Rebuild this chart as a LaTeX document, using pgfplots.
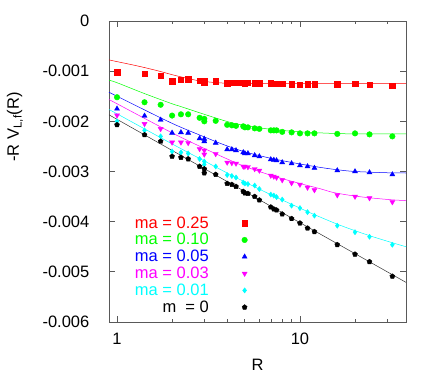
\documentclass[border=0pt]{standalone}
\usepackage{fontspec}
\setmainfont{Liberation Sans}
\usepackage{pgfplots}
\usepackage{pgfplotstable}
\pgfplotsset{compat=1.18}
\usetikzlibrary{plotmarks}
\definecolor{cR}{rgb}{1,0,0}
\definecolor{cG}{rgb}{0,1,0}
\definecolor{cB}{rgb}{0,0,1}
\definecolor{cM}{rgb}{1,0,1}
\definecolor{cC}{rgb}{0,1,1}

\pgfplotstableread{
R red green blue mag cyan black
1.000 -1.02 -1.52 -1.75 -1.88 -2.00 -2.07
1.414 -1.05 -1.62 -1.89 -2.05 -2.18 -2.27
1.732 -1.09 -1.67 -1.97 -2.15 -2.30 -2.40
2.000 -1.20 -1.885 -2.23 -2.42 -2.60 -2.70
2.236 -1.17 -1.86 -2.22 -2.42 -2.62 -2.72
2.449 -1.16 -1.86 -2.23 -2.43 -2.64 -2.75
2.828 -1.19 -1.93 -2.34 -2.55 -2.75 -2.90
3.000 -1.20 -1.95 -2.35 -2.58 -2.80 -2.95
3.000 -1.22 -2.00 -2.40 -2.66 -2.86 -3.03
3.464 -1.20 -1.99 -2.43 -2.65 -2.90 -3.06
4.000 -1.24 -2.07 -2.56 -2.82 -3.07 -3.24
4.243 -1.23 -2.08 -2.56 -2.83 -3.09 -3.26
4.472 -1.23 -2.09 -2.58 -2.84 -3.12 -3.30
4.899 -1.23 -2.10 -2.62 -2.90 -3.22 -3.40
5.000 -1.24 -2.12 -2.64 -2.90 -3.24 -3.43
5.196 -1.23 -2.12 -2.64 -2.91 -3.25 -3.44
5.657 -1.24 -2.14 -2.68 -2.95 -3.28 -3.50
6.000 -1.24 -2.15 -2.70 -2.98 -3.35 -3.57
6.928 -1.24 -2.18 -2.76 -3.08 -3.46 -3.71
7.200 -1.245 -2.18 -2.77 -3.10 -3.48 -3.75
7.450 -1.245 -2.18 -2.78 -3.12 -3.51 -3.77
8.000 -1.25 -2.21 -2.82 -3.17 -3.56 -3.85
9.000 -1.26 -2.22 -2.84 -3.23 -3.68 -3.94
10.00 -1.265 -2.24 -2.88 -3.26 -3.73 -4.03
11.00 -1.26 -2.24 -2.90 -3.32 -3.81 -4.13
12.00 -1.26 -2.24 -2.93 -3.37 -3.88 -4.20
16.00 -1.26 -2.25 -2.98 -3.47 -4.08 -4.46
20.00 -1.245 -2.24 -3.00 -3.50 -4.21 -4.65
24.00 -1.27 -2.26 -3.02 -3.53 -4.30 -4.80
32.00 -1.29 -2.30 -3.06 -3.61 -4.46 -5.09
}\datatab

\begin{document}
\begin{tikzpicture}[font=\fontsize{16.5}{19}\selectfont]
\useasboundingbox (-109pt,-52pt) rectangle (327pt,322pt);
\begin{axis}[
  at={(0,0)}, anchor=south west, scale only axis,
  width=297pt, height=301pt,
  xmode=log, xmin=0.904, xmax=38, ymin=-6, ymax=0,
  xtick={1,10}, xticklabels={1,10},
  minor xtick={2,3,4,5,6,7,8,9,20,30},
  ytick={-6,-5,-4,-3,-2,-1,0},
  yticklabels={-0.006,-0.005,-0.004,-0.003,-0.002,-0.001,0},
  major tick length=6pt, minor tick length=3pt,
  axis line style={black!65, line width=0.9pt},
  tick style={black!65, line width=0.9pt},
  xticklabel style={anchor=north, inner sep=0pt, yshift=-11pt},
  yticklabel style={anchor=east, inner sep=0pt, xshift=-19.5pt},
  xlabel={R}, ylabel={-R V\textsubscript{L,f}(R)},
  every axis x label/.style={at={(axis description cs:0.5,-0.143)}, anchor=center},
  every axis y label/.style={at={(axis description cs:-0.3165,0.648)}, anchor=center, rotate=90},
  legend plot pos=right, legend cell align=right,
  legend style={draw=none, fill=none, at={(axis description cs:0.07,0.364)}, anchor=north west,
    row sep=-0.2pt, /tikz/every odd column/.append style={column sep=31pt}},
]
% fit lines
\addplot[cR, line width=0.5pt, smooth, forget plot] coordinates {(0.904,-0.775) (1,-0.81) (1.2,-0.87) (1.42,-0.93) (1.7,-1.00) (2,-1.07) (2.4,-1.14) (2.8,-1.19) (3.5,-1.23) (4.5,-1.245) (6,-1.25) (10,-1.25) (20,-1.25) (38,-1.25)};
\addplot[cG, line width=0.5pt, smooth, forget plot] coordinates {(0.904,-1.18) (1,-1.23) (1.42,-1.45) (2,-1.65) (2.21,-1.70) (3,-1.86) (4.15,-2.02) (5.3,-2.10) (7,-2.16) (10,-2.21) (15,-2.24) (20,-2.25) (38,-2.25)};
\addplot[cB, line width=0.5pt, smooth, forget plot] coordinates {(0.904,-1.42) (1,-1.50) (2,-2.04) (3,-2.31) (3.5,-2.41) (4,-2.49) (5,-2.61) (7,-2.74) (10,-2.85) (13,-2.92) (16,-2.965) (20,-3.00) (30,-3.025) (38,-3.03)};
\addplot[cM, line width=0.5pt, smooth, forget plot] coordinates {(0.904,-1.565) (1,-1.65) (2,-2.23) (3,-2.54) (3.44,-2.64) (4,-2.75) (5,-2.90) (7,-3.08) (10,-3.24) (12.8,-3.34) (15.3,-3.42) (20,-3.49) (25,-3.53) (32,-3.565) (38,-3.58)};
\addplot[cC, line width=0.5pt, smooth, forget plot] coordinates {(0.904,-1.765) (1,-1.85) (2,-2.45) (3,-2.79) (4,-3.03) (5,-3.21) (7,-3.47) (10,-3.73) (12,-3.86) (16,-4.05) (20,-4.18) (25,-4.30) (32,-4.42) (38,-4.50)};
\addplot[black!80, line width=0.5pt, forget plot] coordinates {(0.904,-1.87) (1,-1.96) (10,-4.02) (38,-5.21)};
% data
\addplot[cR, only marks, mark=square*, mark size=2.7pt] table[x=R, y=red] {\datatab};
\addlegendentry{\textcolor{cR}{ma = 0.25}}
\addplot[cG, only marks, mark=*, mark size=2.8pt] table[x=R, y=green] {\datatab};
\addlegendentry{\textcolor{cG}{ma = 0.10}}
\addplot[cB, only marks, mark=triangle*, mark size=2.9pt] table[x=R, y=blue] {\datatab};
\addlegendentry{\textcolor{cB}{ma = 0.05}}
\addplot[cM, only marks, mark=triangle*, mark size=2.9pt, mark options={rotate=180}] table[x=R, y=mag] {\datatab};
\addlegendentry{\textcolor{cM}{ma = 0.03}}
\addplot[cC, only marks, mark=diamond*, mark size=2.6pt] table[x=R, y=cyan] {\datatab};
\addlegendentry{\textcolor{cC}{ma = 0.01}}
\addplot[black, only marks, mark=pentagon*, mark size=2.6pt] table[x=R, y=black] {\datatab};
\addlegendentry{\textcolor{black}{m\ \ = 0}}
\end{axis}
\end{tikzpicture}
\end{document}
